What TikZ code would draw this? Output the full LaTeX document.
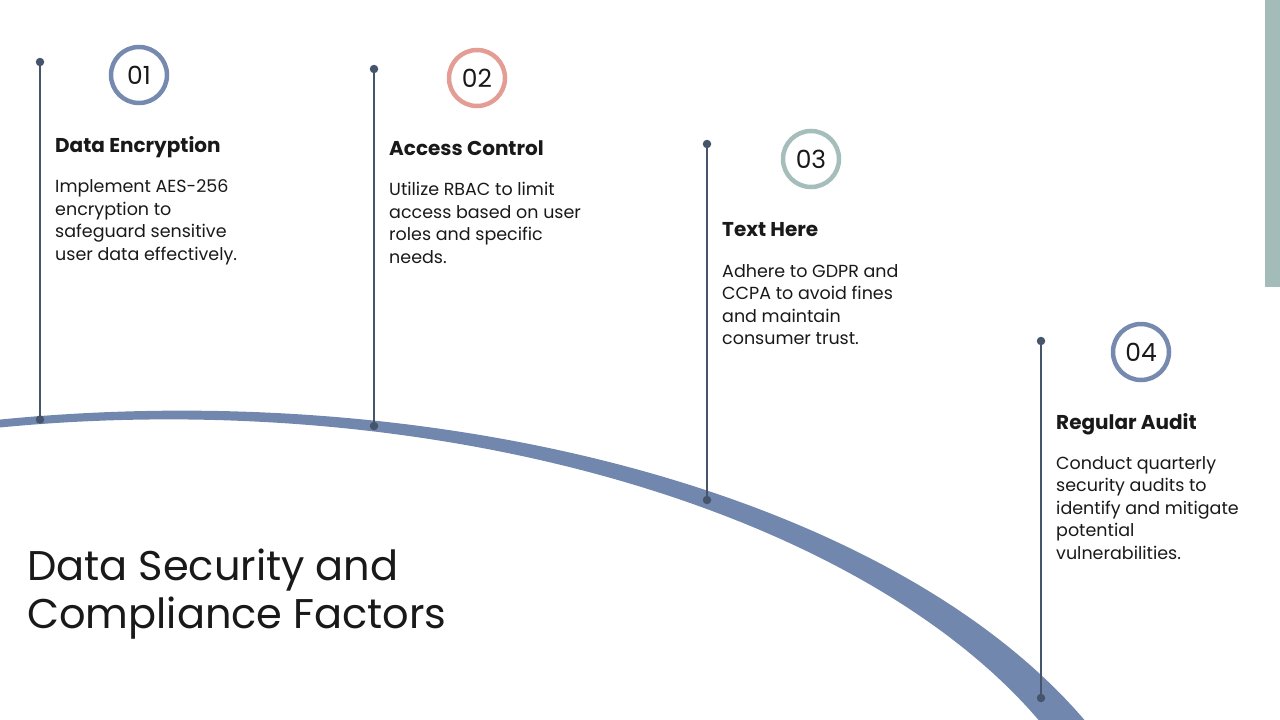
\documentclass[tikz,border=0pt]{standalone}
\usepackage{fontspec}
\setmainfont{Poppins}
\definecolor{band}{RGB}{113,135,174}
\definecolor{stemc}{RGB}{70,84,108}
\definecolor{cblue}{RGB}{118,138,175}
\definecolor{csalmon}{RGB}{228,157,148}
\definecolor{cgreen}{RGB}{166,190,187}
\definecolor{barc}{RGB}{163,187,185}
\definecolor{txt}{RGB}{25,25,25}
\begin{document}
\begin{tikzpicture}[x=1pt,y=-1pt,
  stemline/.style={draw=stemc, line width=1.8pt},
  stemdot/.style={circle, fill=stemc, inner sep=0pt, minimum size=8.5pt},
  numring/.style={circle, draw=#1, line width=4.5pt, minimum size=56pt, inner sep=0pt, font=\fontsize{25}{25}\selectfont, text=txt},
  headtxt/.style={anchor=north west, inner sep=0pt, font=\fontsize{20}{24}\selectfont\bfseries, text=txt},
  bodytxt/.style={anchor=north west, inner sep=0pt, align=left, font=\fontsize{17.5}{22.5}\selectfont, text=txt},
  titletxt/.style={anchor=base west, inner sep=0pt, align=left, font=\fontsize{41.5}{48}\selectfont, text=txt},
  declare function={
    bn(\p)=sqrt((5.23*sin(\p))^2+(9.75*cos(\p))^2);
    bh(\p)=0.5*(7.8+0.0042*(\p+15)^2);
    ex(\p,\s)=175+975*sin(\p)+\s*bh(\p)*5.23*sin(\p)/bn(\p);
    ey(\p,\s)=938-523*cos(\p)-\s*bh(\p)*9.75*cos(\p)/bn(\p);
  }
]
\useasboundingbox (0,0) rectangle (1280,720);
\begin{scope}
\clip (0,0) rectangle (1280,720);
% right bar
\fill[barc] (1265,-2) rectangle (1282,287);
% band
\fill[band] plot[domain=-13:70, samples=140, variable=\q] ({ex(\q,1)},{ey(\q,1)})
  -- plot[domain=70:-13, samples=140, variable=\q] ({ex(\q,-1)},{ey(\q,-1)}) -- cycle;
\end{scope}
% stems
\node[stemdot] (t1) at (40,62) {};
\node[stemdot] (b1) at (40,419.5) {};
\node[stemdot] (t2) at (374,69) {};
\node[stemdot] (b2) at (374,426) {};
\node[stemdot] (t3) at (707,144) {};
\node[stemdot] (b3) at (707,500) {};
\node[stemdot] (t4) at (1041,341) {};
\node[stemdot] (b4) at (1041,698) {};
\draw[stemline] (t1.center) -- (b1.center);
\draw[stemline] (t2.center) -- (b2.center);
\draw[stemline] (t3.center) -- (b3.center);
\draw[stemline] (t4.center) -- (b4.center);
% number rings
\node[numring=cblue] (n1) at (139,75) {01};
\node[numring=csalmon] (n2) at (477,78) {02};
\node[numring=cgreen] (n3) at (811,159) {03};
\node[numring=cblue] (n4) at (1141,352) {04};
% headings
\node[headtxt] (h1) at (55,136) {Data Encryption};
\node[headtxt] (h2) at (389,140) {Access Control};
\node[headtxt] (h3) at (722,222) {Text Here};
\node[headtxt] (h4) at (1056,413) {Regular Audit};
% bodies
\node[bodytxt] (p1) at (55,179.5) {Implement AES-256\\encryption to\\safeguard sensitive\\user data effectively.};
\node[bodytxt] (p2) at (389,182) {Utilize RBAC to limit\\access based on user\\roles and specific\\needs.};
\node[bodytxt] (p3) at (722,264) {Adhere to GDPR and\\CCPA to avoid fines\\and maintain\\consumer trust.};
\node[bodytxt] (p4) at (1056,456) {Conduct quarterly\\security audits to\\identify and mitigate\\potential\\vulnerabilities.};
% title
\node[titletxt] (title) at (27,628) {Data Security and\\Compliance Factors};
\end{tikzpicture}
\end{document}
